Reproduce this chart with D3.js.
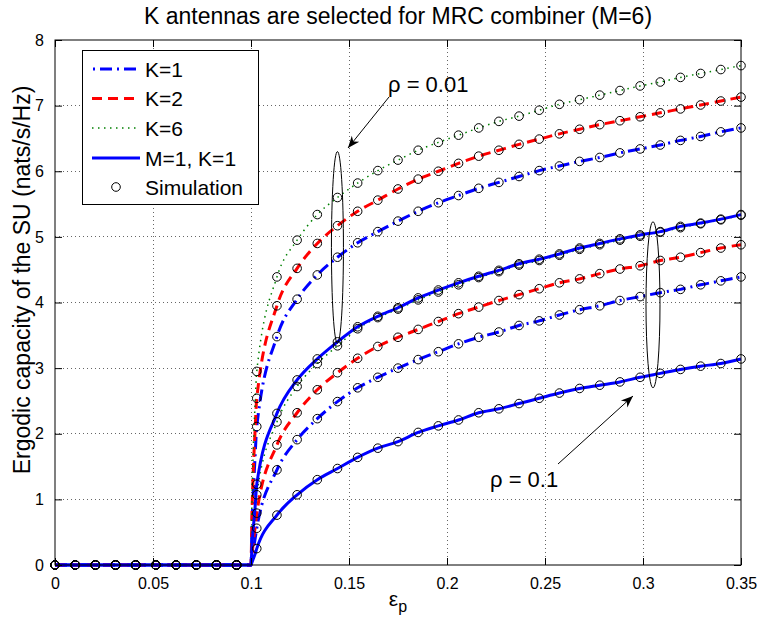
<!DOCTYPE html>
<html>
<head>
<meta charset="utf-8">
<script src="https://cdn.jsdelivr.net/npm/d3@7"></script>
<style>
  body { margin: 0; background: #fff; }
  svg { display: block; font-family: "Liberation Sans", Arial, sans-serif; }
</style>
</head>
<body>
<svg id="chart" width="758" height="623"></svg>
<script>
// ---- data -------------------------------------------------------------
// Simulation sample positions: 35 evenly spaced points on [0, 0.35]
const simX = d3.range(35).map(k => 0.35 * k / 34);

// Simulated capacity (nats/s/Hz), samples k = 0..34 (zero below eps_p = 0.1)
const zeros10 = [0, 0, 0, 0, 0, 0, 0, 0, 0, 0];
const simK1_r001 = zeros10.concat([2.11, 3.48, 4.05, 4.42, 4.69, 4.91, 5.08, 5.24, 5.39, 5.52, 5.63, 5.74, 5.83, 5.92, 6.01, 6.08, 6.15, 6.21, 6.28, 6.34, 6.40, 6.47, 6.53, 6.60, 6.66]);
const simK2_r001 = zeros10.concat([2.54, 3.95, 4.52, 4.90, 5.17, 5.39, 5.56, 5.73, 5.88, 6.00, 6.12, 6.23, 6.32, 6.41, 6.49, 6.57, 6.64, 6.71, 6.77, 6.83, 6.89, 6.95, 7.01, 7.07, 7.13]);
const simK6_r001 = zeros10.concat([2.95, 4.39, 4.95, 5.34, 5.60, 5.82, 6.01, 6.17, 6.32, 6.44, 6.55, 6.66, 6.76, 6.84, 6.93, 7.02, 7.09, 7.16, 7.23, 7.30, 7.36, 7.43, 7.49, 7.55, 7.61]);
const simM1_r001 = zeros10.concat([1.23, 2.31, 2.82, 3.14, 3.40, 3.63, 3.79, 3.92, 4.07, 4.19, 4.30, 4.40, 4.49, 4.59, 4.66, 4.74, 4.83, 4.90, 4.97, 5.03, 5.08, 5.16, 5.21, 5.27, 5.34]);
const simK1_r01 = zeros10.concat([0.56, 1.45, 1.91, 2.23, 2.49, 2.70, 2.86, 3.00, 3.13, 3.25, 3.37, 3.47, 3.55, 3.65, 3.72, 3.81, 3.89, 3.95, 4.03, 4.09, 4.15, 4.20, 4.27, 4.33, 4.39]);
const simK2_r01 = zeros10.concat([0.79, 1.83, 2.32, 2.67, 2.93, 3.15, 3.33, 3.47, 3.59, 3.71, 3.83, 3.93, 4.03, 4.12, 4.21, 4.30, 4.36, 4.44, 4.51, 4.56, 4.64, 4.69, 4.76, 4.83, 4.88]);
const simK6_r01 = zeros10.concat([1.07, 2.18, 2.72, 3.07, 3.34, 3.60, 3.77, 3.90, 4.04, 4.16, 4.27, 4.38, 4.47, 4.57, 4.64, 4.72, 4.81, 4.88, 4.95, 5.01, 5.07, 5.14, 5.20, 5.26, 5.33]);
const simM1_r01 = zeros10.concat([0.25, 0.76, 1.07, 1.30, 1.47, 1.64, 1.78, 1.88, 2.02, 2.12, 2.21, 2.32, 2.38, 2.46, 2.54, 2.62, 2.69, 2.74, 2.79, 2.86, 2.92, 2.98, 3.03, 3.07, 3.14]);

// Analytical curves: extra points just above the threshold eps_p = 0.1
const threshX = [0, 0.1, 0.1005, 0.101, 0.102];
const anK1_r001 = [0, 0, 0.60, 1.00, 1.60];
const anK2_r001 = [0, 0, 0.80, 1.30, 2.00];
const anK6_r001 = [0, 0, 1.00, 1.60, 2.40];
const anM1_r001 = [0, 0, 0.30, 0.50, 0.85];
const anK1_r01 = [0, 0, 0.10, 0.20, 0.38];
const anK2_r01 = [0, 0, 0.15, 0.30, 0.55];
const anK6_r01 = [0, 0, 0.25, 0.42, 0.73];
const anM1_r01 = [0, 0, 0.04, 0.08, 0.16];

const xTicks = [0, 0.05, 0.1, 0.15, 0.2, 0.25, 0.3, 0.35];
const xTickLabels = ["0", "0.05", "0.1", "0.15", "0.2", "0.25", "0.3", "0.35"];
const yTicks = [0, 1, 2, 3, 4, 5, 6, 7, 8];

const legendLabels = ["K=1", "K=2", "K=6", "M=1, K=1", "Simulation"];

// ---- layout ----------------------------------------------------------
const svg = d3.select("#chart");
const L = 55, R = 741, T = 40, B = 565;
const x = d3.scaleLinear().domain([0, 0.35]).range([L, R]);
const y = d3.scaleLinear().domain([0, 8]).range([B, T]);

const styles = {
  K1: { color: "#0000ff", width: 3, dash: "12,5,2,5" },
  K2: { color: "#ff0000", width: 3, dash: "10,6" },
  K6: { color: "#008000", width: 1.5, dash: "1.5,4.5" },
  M1: { color: "#0000ff", width: 3, dash: null }
};

// grid (dotted)
const grid = svg.append("g").attr("stroke", "#666").attr("stroke-width", 1)
  .attr("stroke-dasharray", "1,3").attr("shape-rendering", "crispEdges");
grid.selectAll(".gx").data(xTicks.slice(1, -1)).join("line")
  .attr("x1", d => x(d)).attr("x2", d => x(d)).attr("y1", T).attr("y2", B);
grid.selectAll(".gy").data(yTicks.slice(1, -1)).join("line")
  .attr("y1", d => y(d)).attr("y2", d => y(d)).attr("x1", L).attr("x2", R);

// curves
const line = d3.line().x(d => x(d[0])).y(d => y(d[1])).curve(d3.curveMonotoneX);
function analytic(near, sim) {
  const pts = threshX.map((t, i) => [t, near[i]]);
  for (let k = 10; k < simX.length; k++) pts.push([simX[k], sim[k]]);
  return pts;
}
const curves = [
  { s: styles.K1, pts: analytic(anK1_r001, simK1_r001) },
  { s: styles.K1, pts: analytic(anK1_r01, simK1_r01) },
  { s: styles.K2, pts: analytic(anK2_r001, simK2_r001) },
  { s: styles.K2, pts: analytic(anK2_r01, simK2_r01) },
  { s: styles.K6, pts: analytic(anK6_r001, simK6_r001) },
  { s: styles.K6, pts: analytic(anK6_r01, simK6_r01) },
  { s: styles.M1, pts: analytic(anM1_r001, simM1_r001) },
  { s: styles.M1, pts: analytic(anM1_r01, simM1_r01) }
];
const plot = svg.append("g");
curves.forEach(c => {
  plot.append("path").attr("d", line(c.pts)).attr("fill", "none")
    .attr("stroke", c.s.color).attr("stroke-width", c.s.width)
    .attr("stroke-dasharray", c.s.dash);
});

// simulation markers
const sims = [simK1_r001, simK2_r001, simK6_r001, simM1_r001, simK1_r01, simK2_r01, simK6_r01, simM1_r01];
sims.forEach(arr => {
  plot.selectAll(null).data(arr).join("circle")
    .attr("cx", (d, i) => x(simX[i])).attr("cy", d => y(d)).attr("r", 4.3)
    .attr("fill", "none").attr("stroke", "#000").attr("stroke-width", 1);
});

// axes box and inward ticks
svg.append("rect").attr("x", L).attr("y", T).attr("width", R - L).attr("height", B - T)
  .attr("fill", "none").attr("stroke", "#000").attr("stroke-width", 1);
const tl = 7;
const xAxisB = d3.axisBottom(x).tickValues(xTicks).tickFormat((d, i) => xTickLabels[i])
  .tickSizeInner(-tl).tickSizeOuter(0).tickPadding(tl + 6);
const xAxisT = d3.axisTop(x).tickValues(xTicks).tickFormat("").tickSizeInner(-tl).tickSizeOuter(0);
const yAxisL = d3.axisLeft(y).tickValues(yTicks).tickFormat(d3.format("d"))
  .tickSizeInner(-tl).tickSizeOuter(0).tickPadding(tl + 4);
const yAxisR = d3.axisRight(y).tickValues(yTicks).tickFormat("").tickSizeInner(-tl).tickSizeOuter(0);
function styleAxis(g) {
  g.select(".domain").remove();
  g.selectAll("text").attr("font-family", "Liberation Sans, Arial, sans-serif").attr("font-size", 16).attr("fill", "#000");
  g.selectAll("line").attr("stroke", "#000");
}
svg.append("g").attr("transform", `translate(0,${B})`).call(xAxisB).call(styleAxis);
svg.append("g").attr("transform", `translate(0,${T})`).call(xAxisT).call(styleAxis);
svg.append("g").attr("transform", `translate(${L},0)`).call(yAxisL).call(styleAxis);
svg.append("g").attr("transform", `translate(${R},0)`).call(yAxisR).call(styleAxis);

// title and axis labels
svg.append("text").attr("x", (L + R) / 2).attr("y", 24).attr("text-anchor", "middle")
  .attr("font-size", 23).text("K antennas are selected for MRC combiner (M=6)");
const xl = svg.append("text").attr("x", (L + R) / 2).attr("y", 606).attr("text-anchor", "middle")
  .attr("font-size", 21);
xl.append("tspan").text("ε");
xl.append("tspan").attr("dy", 6).attr("font-size", 16).text("p");
svg.append("text").attr("transform", `translate(30,280) rotate(-90)`)
  .attr("text-anchor", "middle").attr("font-size", 23)
  .text("Ergodic capacity of the SU (nats/s/Hz)");

// annotations: ellipses grouping each rho set, with arrows and labels
const ann = svg.append("g");
ann.append("ellipse").attr("cx", x(0.1441)).attr("cy", y((3.38 + 6.3) / 2))
  .attr("rx", 6).attr("ry", (y(3.38) - y(6.3)) / 2)
  .attr("fill", "none").attr("stroke", "#000").attr("stroke-width", 1);
ann.append("ellipse").attr("cx", x(0.3051)).attr("cy", y((2.7 + 5.23) / 2))
  .attr("rx", 7).attr("ry", (y(2.7) - y(5.23)) / 2)
  .attr("fill", "none").attr("stroke", "#000").attr("stroke-width", 1);

svg.append("defs").append("marker").attr("id", "ah").attr("viewBox", "0 0 10 10")
  .attr("refX", 10).attr("refY", 5).attr("markerWidth", 12).attr("markerHeight", 12)
  .attr("markerUnits", "userSpaceOnUse").attr("orient", "auto")
  .append("path").attr("d", "M0,1 L10,5 L0,9 L3,5 Z").attr("fill", "#000");

ann.append("line").attr("x1", 389).attr("y1", 97).attr("x2", 348).attr("y2", 148)
  .attr("stroke", "#000").attr("stroke-width", 1).attr("marker-end", "url(#ah)");
ann.append("line").attr("x1", 558).attr("y1", 464).attr("x2", 633).attr("y2", 396)
  .attr("stroke", "#000").attr("stroke-width", 1).attr("marker-end", "url(#ah)");
ann.append("text").attr("x", 388).attr("y", 92).attr("font-size", 22).text("ρ = 0.01");
ann.append("text").attr("x", 490).attr("y", 487).attr("font-size", 22).text("ρ = 0.1");

// legend
const lg = svg.append("g");
lg.append("rect").attr("x", 82.5).attr("y", 50.5).attr("width", 176).attr("height", 154)
  .attr("fill", "#fff").attr("stroke", "#000").attr("stroke-width", 1);
const rowY = [69, 98.5, 128, 158, 187];
const legStyles = [styles.K1, styles.K2, styles.K6, styles.M1];
legStyles.forEach((s, i) => {
  lg.append("line").attr("x1", 92).attr("x2", 140).attr("y1", rowY[i]).attr("y2", rowY[i])
    .attr("stroke", s.color).attr("stroke-width", s.width).attr("stroke-dasharray", s.dash)
    .attr("stroke-dashoffset", i === 0 ? 16 : 0);
});
lg.append("circle").attr("cx", 116).attr("cy", rowY[4]).attr("r", 4.3)
  .attr("fill", "none").attr("stroke", "#000");
legendLabels.forEach((t, i) => {
  lg.append("text").attr("x", 145).attr("y", rowY[i]).attr("dy", "0.36em")
    .attr("font-size", 21).text(t);
});
</script>
</body>
</html>
